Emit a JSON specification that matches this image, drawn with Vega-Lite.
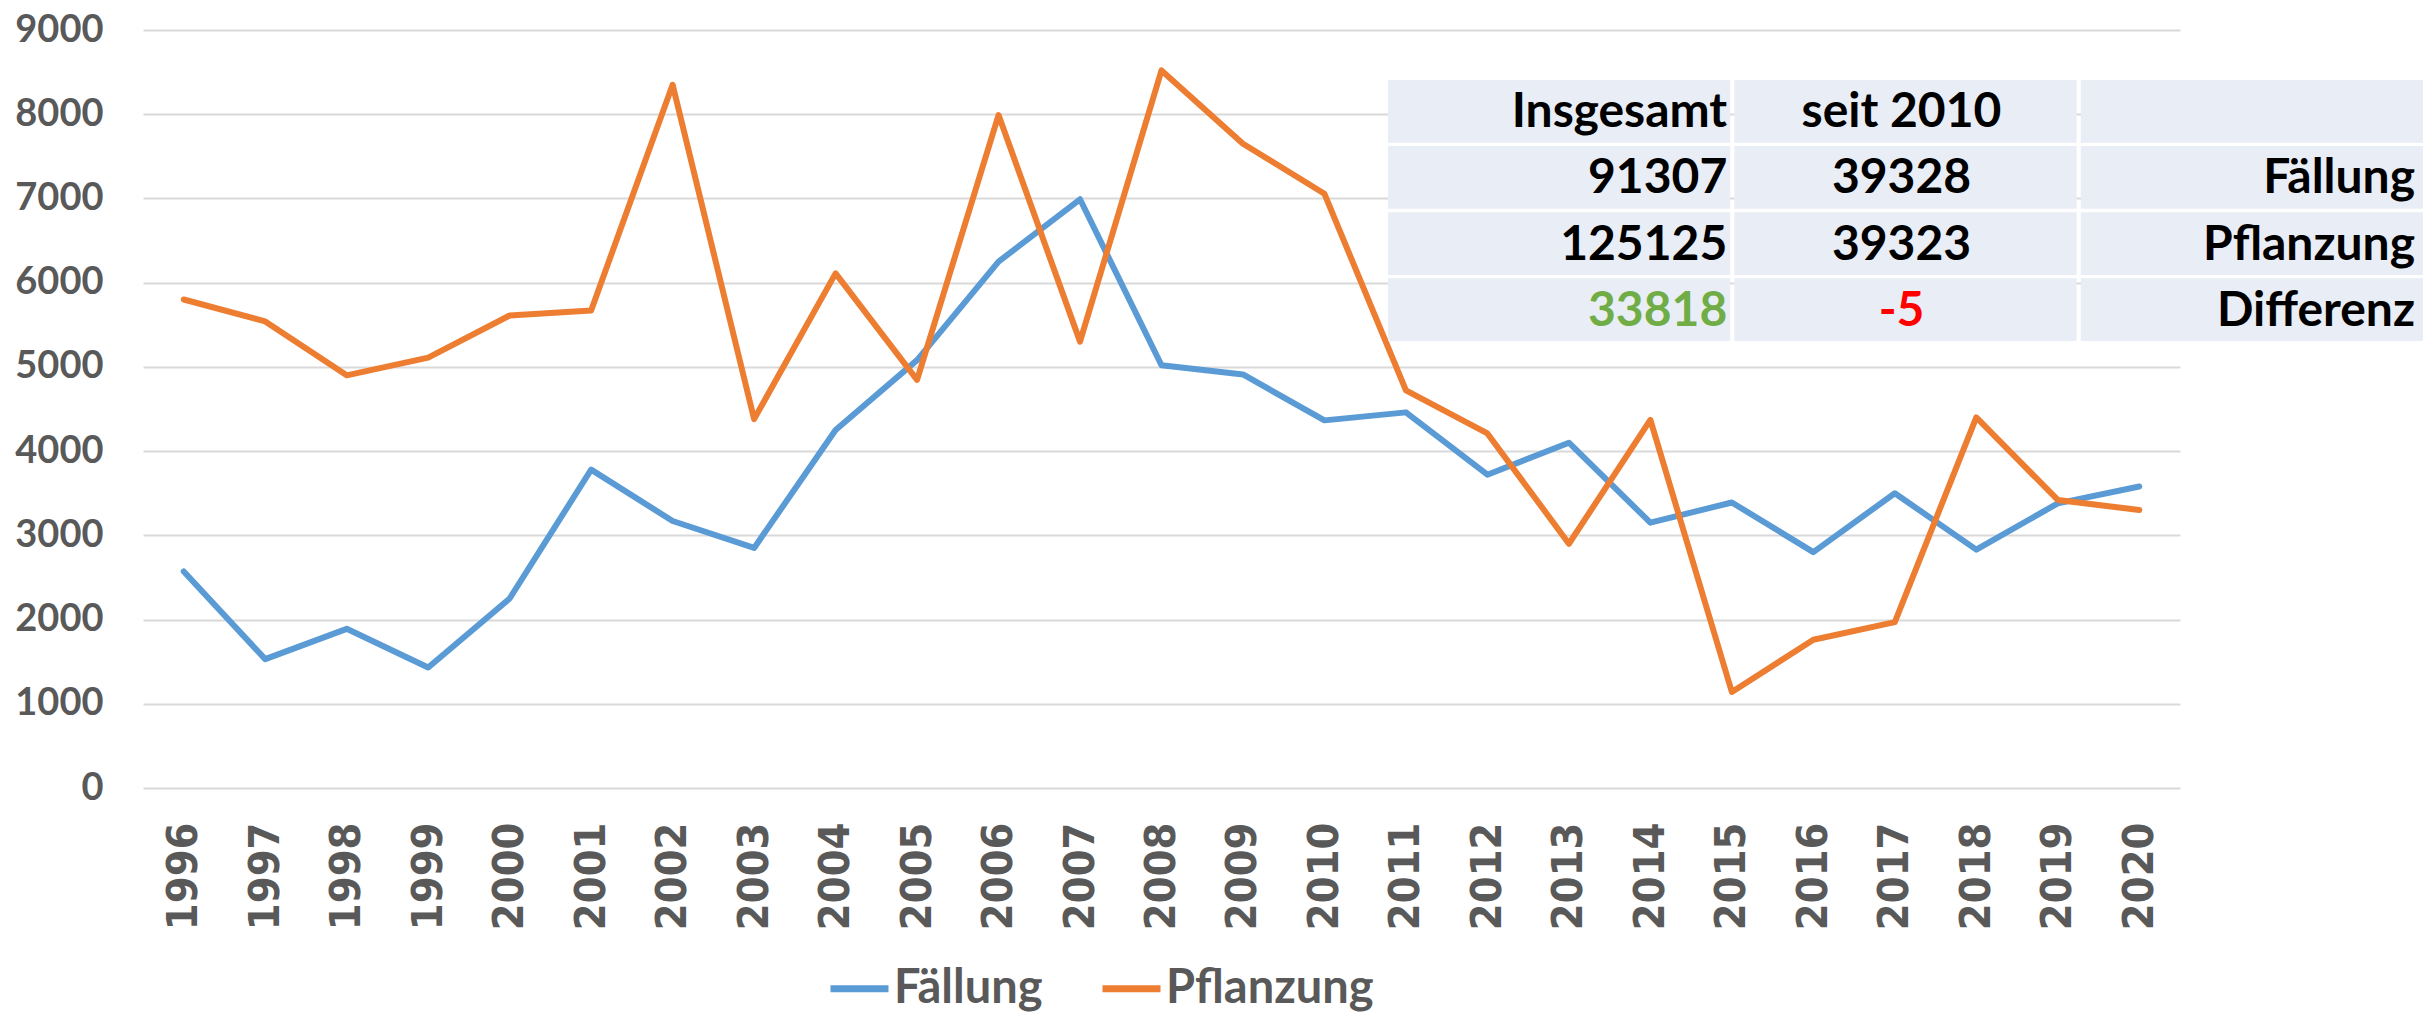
{
  "$schema": "https://vega.github.io/schema/vega-lite/v6.json",
  "autosize": {"type": "none"},
  "width": 2037,
  "height": 758,
  "padding": {"left": 143, "top": 30, "right": 243, "bottom": 224},
  "background": "white",
  "config": {"view": {"stroke": null}},
  "datasets": {
    "series": [
      {"year": "1996", "series": "Fällung", "value": 2570},
      {"year": "1997", "series": "Fällung", "value": 1530},
      {"year": "1998", "series": "Fällung", "value": 1890},
      {"year": "1999", "series": "Fällung", "value": 1430},
      {"year": "2000", "series": "Fällung", "value": 2250},
      {"year": "2001", "series": "Fällung", "value": 3780},
      {"year": "2002", "series": "Fällung", "value": 3170},
      {"year": "2003", "series": "Fällung", "value": 2850},
      {"year": "2004", "series": "Fällung", "value": 4250},
      {"year": "2005", "series": "Fällung", "value": 5080},
      {"year": "2006", "series": "Fällung", "value": 6250},
      {"year": "2007", "series": "Fällung", "value": 6990},
      {"year": "2008", "series": "Fällung", "value": 5020},
      {"year": "2009", "series": "Fällung", "value": 4910},
      {"year": "2010", "series": "Fällung", "value": 4365},
      {"year": "2011", "series": "Fällung", "value": 4460},
      {"year": "2012", "series": "Fällung", "value": 3720},
      {"year": "2013", "series": "Fällung", "value": 4100},
      {"year": "2014", "series": "Fällung", "value": 3150},
      {"year": "2015", "series": "Fällung", "value": 3390},
      {"year": "2016", "series": "Fällung", "value": 2800},
      {"year": "2017", "series": "Fällung", "value": 3500},
      {"year": "2018", "series": "Fällung", "value": 2830},
      {"year": "2019", "series": "Fällung", "value": 3380},
      {"year": "2020", "series": "Fällung", "value": 3580},
      {"year": "1996", "series": "Pflanzung", "value": 5800},
      {"year": "1997", "series": "Pflanzung", "value": 5540},
      {"year": "1998", "series": "Pflanzung", "value": 4900},
      {"year": "1999", "series": "Pflanzung", "value": 5110},
      {"year": "2000", "series": "Pflanzung", "value": 5610},
      {"year": "2001", "series": "Pflanzung", "value": 5670},
      {"year": "2002", "series": "Pflanzung", "value": 8350},
      {"year": "2003", "series": "Pflanzung", "value": 4380},
      {"year": "2004", "series": "Pflanzung", "value": 6110},
      {"year": "2005", "series": "Pflanzung", "value": 4845},
      {"year": "2006", "series": "Pflanzung", "value": 7990},
      {"year": "2007", "series": "Pflanzung", "value": 5300},
      {"year": "2008", "series": "Pflanzung", "value": 8520},
      {"year": "2009", "series": "Pflanzung", "value": 7650},
      {"year": "2010", "series": "Pflanzung", "value": 7055},
      {"year": "2011", "series": "Pflanzung", "value": 4720},
      {"year": "2012", "series": "Pflanzung", "value": 4210},
      {"year": "2013", "series": "Pflanzung", "value": 2900},
      {"year": "2014", "series": "Pflanzung", "value": 4370},
      {"year": "2015", "series": "Pflanzung", "value": 1140},
      {"year": "2016", "series": "Pflanzung", "value": 1760},
      {"year": "2017", "series": "Pflanzung", "value": 1970},
      {"year": "2018", "series": "Pflanzung", "value": 4400},
      {"year": "2019", "series": "Pflanzung", "value": 3420},
      {"year": "2020", "series": "Pflanzung", "value": 3300}
    ],
    "table": [
      {"row": 0, "col": 0, "text": "Insgesamt"},
      {"row": 0, "col": 1, "text": "seit 2010"},
      {"row": 0, "col": 2, "text": ""},
      {"row": 1, "col": 0, "text": "91307"},
      {"row": 1, "col": 1, "text": "39328"},
      {"row": 1, "col": 2, "text": "Fällung"},
      {"row": 2, "col": 0, "text": "125125"},
      {"row": 2, "col": 1, "text": "39323"},
      {"row": 2, "col": 2, "text": "Pflanzung"},
      {"row": 3, "col": 0, "text": "33818"},
      {"row": 3, "col": 1, "text": "-5"},
      {"row": 3, "col": 2, "text": "Differenz"}
    ]
  },
  "layer": [
    {
      "data": {"name": "series"},
      "mark": {"type": "line", "strokeWidth": 6, "strokeJoin": "round", "strokeCap": "round"},
      "encoding": {
        "x": {
          "field": "year", "type": "ordinal",
          "scale": {"type": "point", "padding": 0.5},
          "axis": {
            "title": null, "labelAngle": -90, "domain": false, "ticks": false, "grid": false,
            "labelFont": "DejaVu Sans Condensed", "labelFontWeight": "bold", "labelFontSize": 43,
            "labelColor": "#595959", "labelPadding": 34
          }
        },
        "y": {
          "field": "value", "type": "quantitative",
          "scale": {"domain": [0, 9000], "nice": false},
          "axis": {
            "title": null, "values": [0, 1000, 2000, 3000, 4000, 5000, 6000, 7000, 8000, 9000],
            "format": "d", "domain": false, "ticks": false, "grid": true,
            "gridColor": "#D9D9D9", "gridWidth": 2,
            "labelFont": "Lato", "labelFontWeight": "bold", "labelFontSize": 38,
            "labelColor": "#595959", "labelPadding": 40
          }
        },
        "color": {
          "field": "series", "type": "nominal",
          "scale": {"domain": ["Fällung", "Pflanzung"], "range": ["#5B9BD5", "#ED7D31"]},
          "legend": {
            "title": null, "orient": "none", "legendX": 684, "legendY": 926,
            "direction": "horizontal", "symbolType": "stroke", "symbolSize": 3364,
            "symbolStrokeWidth": 7, "labelFont": "Lato", "labelFontWeight": "bold",
            "labelFontSize": 47, "labelColor": "#595959", "columnPadding": 45,
            "labelOffset": 2, "labelLimit": 400, "padding": 0
          }
        }
      }
    },
    {
      "data": {"name": "table"},
      "layer": [
        {
          "mark": {"type": "rect", "color": "#E9EDF5"},
          "encoding": {
            "x": {"field": "col", "type": "ordinal", "axis": null,
              "scale": {"type": "band", "range": [1245, 2280], "paddingInner": 0.012, "paddingOuter": 0}},
            "y": {"field": "row", "type": "ordinal", "axis": null,
              "scale": {"type": "band", "range": [50, 311], "paddingInner": 0.05, "paddingOuter": 0}}
          }
        },
        {
          "transform": [{"filter": "datum.col == 0"}],
          "mark": {"type": "text", "align": "right", "baseline": "middle", "font": "Lato", "fontWeight": "bold", "fontSize": 48, "xOffset": -3, "yOffset": 2},
          "encoding": {
            "x": {"field": "col", "type": "ordinal", "axis": null, "bandPosition": 1},
            "y": {"field": "row", "type": "ordinal", "axis": null, "bandPosition": 0.5},
            "text": {"field": "text"},
            "color": {"condition": [{"test": "datum.row == 3", "value": "#70AD47"}], "value": "#000000"}
          }
        },
        {
          "transform": [{"filter": "datum.col == 1"}],
          "mark": {"type": "text", "align": "center", "baseline": "middle", "font": "Lato", "fontWeight": "bold", "fontSize": 48, "xOffset": -4, "yOffset": 2},
          "encoding": {
            "x": {"field": "col", "type": "ordinal", "axis": null, "bandPosition": 0.5},
            "y": {"field": "row", "type": "ordinal", "axis": null, "bandPosition": 0.5},
            "text": {"field": "text"},
            "color": {"condition": [{"test": "datum.row == 3", "value": "#FF0000"}], "value": "#000000"}
          }
        },
        {
          "transform": [{"filter": "datum.col == 2"}],
          "mark": {"type": "text", "align": "right", "baseline": "middle", "font": "Lato", "fontWeight": "bold", "fontSize": 48, "xOffset": -8, "yOffset": 2, "color": "#000000"},
          "encoding": {
            "x": {"field": "col", "type": "ordinal", "axis": null, "bandPosition": 1},
            "y": {"field": "row", "type": "ordinal", "axis": null, "bandPosition": 0.5},
            "text": {"field": "text"}
          }
        }
      ]
    }
  ],
  "resolve": {"scale": {"x": "independent", "y": "independent"}}
}
